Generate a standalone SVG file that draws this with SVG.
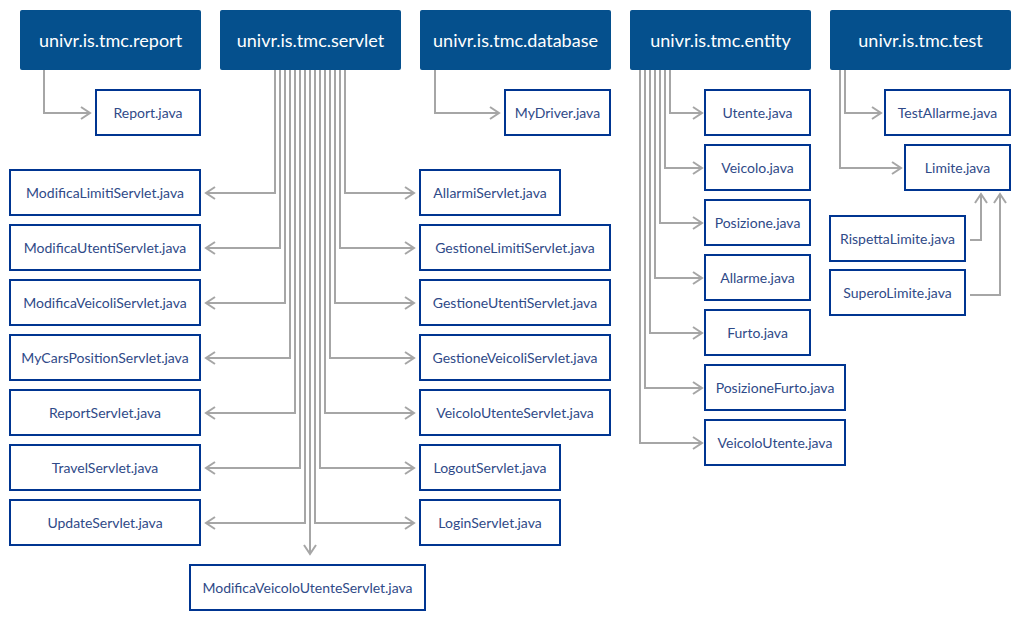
<svg xmlns="http://www.w3.org/2000/svg" width="1023" height="620" viewBox="0 0 1023 620">
<style>
.pkg rect{fill:#05508d}
.pkg text{fill:#fff;font-family:Lato,"Liberation Sans",sans-serif;font-size:18px;text-anchor:middle}
.cls rect{fill:#fff;stroke:#003591;stroke-width:2}
.cls text{fill:#2f4a88;font-family:Lato,"Liberation Sans",sans-serif;font-size:14px;text-anchor:middle}
#connectors path{fill:none;stroke:#a6a6a6;stroke-width:2;marker-end:url(#arr)}
</style>
<defs>
<marker id="arr" markerUnits="userSpaceOnUse" markerWidth="14" markerHeight="16" refX="10" refY="7" orient="auto" viewBox="0 0 14 16">
<path d="M1,1 L10,7 L1,13" fill="none" stroke="#a6a6a6" stroke-width="2"/>
</marker>
</defs>
<rect width="1023" height="620" fill="#fff"/>
<g id="connectors">
<path d="M44,70 V113 H90"/>
<path d="M435,70 V113 H499"/>
<path d="M275,70 V193 H206"/>
<path d="M280,70 V248 H206"/>
<path d="M285,70 V303 H206"/>
<path d="M290,70 V358 H206"/>
<path d="M295,70 V413 H206"/>
<path d="M300,70 V468 H206"/>
<path d="M305,70 V523 H206"/>
<path d="M310,70 V554"/>
<path d="M315,70 V523 H414"/>
<path d="M320,70 V468 H414"/>
<path d="M325,70 V413 H414"/>
<path d="M330,70 V358 H414"/>
<path d="M335,70 V303 H414"/>
<path d="M340,70 V248 H414"/>
<path d="M345,70 V193 H414"/>
<path d="M670,70 V113 H702"/>
<path d="M665,70 V168 H702"/>
<path d="M660,70 V223 H702"/>
<path d="M655,70 V278 H702"/>
<path d="M650,70 V333 H702"/>
<path d="M645,70 V388 H702"/>
<path d="M640,70 V443 H702"/>
<path d="M845,70 V113 H881"/>
<path d="M840,70 V168 H901"/>
<path d="M970,240 H981 V194"/>
<path d="M970,295 H1000 V194"/>
</g>
<g id="pkg-report" class="pkg"><rect x="20" y="10" width="181" height="60" rx="2"/><text x="110.5" y="47">univr.is.tmc.report</text></g>
<g id="pkg-servlet" class="pkg"><rect x="220" y="10" width="181" height="60" rx="2"/><text x="310.5" y="47">univr.is.tmc.servlet</text></g>
<g id="pkg-database" class="pkg"><rect x="420" y="10" width="191" height="60" rx="2"/><text x="515.5" y="47">univr.is.tmc.database</text></g>
<g id="pkg-entity" class="pkg"><rect x="630" y="10" width="181" height="60" rx="2"/><text x="720.5" y="47">univr.is.tmc.entity</text></g>
<g id="pkg-test" class="pkg"><rect x="830" y="10" width="181" height="60" rx="2"/><text x="920.5" y="47">univr.is.tmc.test</text></g>

<g id="report-java" class="cls"><rect x="96" y="90" width="104" height="45"/><text x="148" y="118">Report.java</text></g>
<g id="mydriver" class="cls"><rect x="505" y="90" width="105" height="45"/><text x="557.5" y="118">MyDriver.java</text></g>

<g id="modificalimiti" class="cls"><rect x="10" y="170" width="190" height="45"/><text x="105" y="198">ModificaLimitiServlet.java</text></g>
<g id="modificautenti" class="cls"><rect x="10" y="225" width="190" height="45"/><text x="105" y="253">ModificaUtentiServlet.java</text></g>
<g id="modificaveicoli" class="cls"><rect x="10" y="280" width="190" height="45"/><text x="105" y="308">ModificaVeicoliServlet.java</text></g>
<g id="mycarsposition" class="cls"><rect x="10" y="335" width="190" height="45"/><text x="105" y="363">MyCarsPositionServlet.java</text></g>
<g id="reportservlet" class="cls"><rect x="10" y="390" width="190" height="45"/><text x="105" y="418">ReportServlet.java</text></g>
<g id="travelservlet" class="cls"><rect x="10" y="445" width="190" height="45"/><text x="105" y="473">TravelServlet.java</text></g>
<g id="updateservlet" class="cls"><rect x="10" y="500" width="190" height="45"/><text x="105" y="528">UpdateServlet.java</text></g>

<g id="allarmiservlet" class="cls"><rect x="420" y="170" width="140" height="45"/><text x="490" y="198">AllarmiServlet.java</text></g>
<g id="gestionelimiti" class="cls"><rect x="420" y="225" width="190" height="45"/><text x="515" y="253">GestioneLimitiServlet.java</text></g>
<g id="gestioneutenti" class="cls"><rect x="420" y="280" width="190" height="45"/><text x="515" y="308">GestioneUtentiServlet.java</text></g>
<g id="gestioneveicoli" class="cls"><rect x="420" y="335" width="190" height="45"/><text x="515" y="363">GestioneVeicoliServlet.java</text></g>
<g id="veicoloutenteservlet" class="cls"><rect x="420" y="390" width="190" height="45"/><text x="515" y="418">VeicoloUtenteServlet.java</text></g>
<g id="logoutservlet" class="cls"><rect x="420" y="445" width="140" height="45"/><text x="490" y="473">LogoutServlet.java</text></g>
<g id="loginservlet" class="cls"><rect x="420" y="500" width="140" height="45"/><text x="490" y="528">LoginServlet.java</text></g>
<g id="modificaveicoloutente" class="cls"><rect x="190" y="565" width="235" height="45"/><text x="307.5" y="593">ModificaVeicoloUtenteServlet.java</text></g>

<g id="utente" class="cls"><rect x="705" y="90" width="105" height="45"/><text x="757.5" y="118">Utente.java</text></g>
<g id="veicolo" class="cls"><rect x="705" y="145" width="105" height="45"/><text x="757.5" y="173">Veicolo.java</text></g>
<g id="posizione" class="cls"><rect x="705" y="200" width="105" height="45"/><text x="757.5" y="228">Posizione.java</text></g>
<g id="allarme" class="cls"><rect x="705" y="255" width="105" height="45"/><text x="757.5" y="283">Allarme.java</text></g>
<g id="furto" class="cls"><rect x="705" y="310" width="105" height="45"/><text x="757.5" y="338">Furto.java</text></g>
<g id="posizionefurto" class="cls"><rect x="705" y="365" width="140" height="45"/><text x="775" y="393">PosizioneFurto.java</text></g>
<g id="veicoloutente" class="cls"><rect x="705" y="420" width="140" height="45"/><text x="775" y="448">VeicoloUtente.java</text></g>

<g id="testallarme" class="cls"><rect x="885" y="90" width="125" height="45"/><text x="947.5" y="118">TestAllarme.java</text></g>
<g id="limite" class="cls"><rect x="905" y="145" width="105" height="45"/><text x="957.5" y="173">Limite.java</text></g>
<g id="rispettalimite" class="cls"><rect x="830" y="216" width="135" height="45"/><text x="897.5" y="244">RispettaLimite.java</text></g>
<g id="superolimite" class="cls"><rect x="830" y="270" width="135" height="45"/><text x="897.5" y="298">SuperoLimite.java</text></g>
</svg>
